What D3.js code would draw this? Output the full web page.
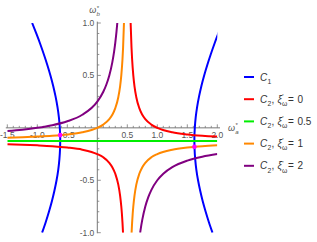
<!DOCTYPE html>
<html><head><meta charset="utf-8">
<script src="https://cdn.jsdelivr.net/npm/d3@7/dist/d3.min.js"></script>
<style>body{margin:0;background:#fff;} svg{display:block;font-family:"Liberation Sans",Arial,sans-serif;} text{white-space:pre;}</style>
</head><body><svg id="c" width="317" height="242"></svg>
<script>
// ---- data ----
const xTickValues = [-1.5, -1.0, -0.5, 0.5, 1.0, 1.5, 2.0];
const yTickValues = [-1.0, -0.5, 0.5, 1.0];
const xTickLabels = ["-1.5", "-1.0", "-0.5", "0.5", "1.0", "1.5", "2.0"];
const yTickLabels = ["-1.0", "-0.5", "0.5", "1.0"];

// C1 (two branches), points [x, y]
const c1Left = [[-0.920,-1.0],[-0.860,-0.9],[-0.806,-0.8],[-0.757,-0.7],[-0.715,-0.6],[-0.679,-0.5],[-0.651,-0.4],[-0.632,-0.3],[-0.621,-0.2],[-0.618,-0.1],[-0.625,0.0],[-0.640,0.1],[-0.664,0.2],[-0.696,0.3],[-0.735,0.4],[-0.781,0.5],[-0.833,0.6],[-0.890,0.7],[-0.951,0.8],[-1.017,0.9],[-1.086,1.0]];
const c1Right = [[1.920,-1.0],[1.860,-0.9],[1.806,-0.8],[1.757,-0.7],[1.715,-0.6],[1.679,-0.5],[1.651,-0.4],[1.632,-0.3],[1.621,-0.2],[1.618,-0.1],[1.625,0.0],[1.640,0.1],[1.664,0.2],[1.696,0.3],[1.735,0.4],[1.781,0.5],[1.833,0.6],[1.890,0.7],[1.951,0.8],[2.017,0.9],[2.086,1.0]];

// C2, xi = 0 (red)
const c2xi0Left = [[-1.5,-0.156],[-1.25,-0.161],[-1.0,-0.167],[-0.75,-0.175],[-0.5,-0.188],[-0.25,-0.208],[0,-0.250],[0.1,-0.281],[0.2,-0.333],[0.25,-0.375],[0.3,-0.438],[0.35,-0.542],[0.38,-0.646],[0.40,-0.750],[0.41,-0.819],[0.42,-0.906],[0.4286,-1.0]];
const c2xi0Right = [[0.5556,1.0],[0.57,0.768],[0.58,0.656],[0.6,0.5],[0.62,0.396],[0.65,0.292],[0.7,0.1875],[0.75,0.125],[0.8,0.083],[0.9,0.031],[1.0,0.0],[1.25,-0.042],[1.5,-0.0625],[1.75,-0.075],[2.0,-0.083]];
// C2, xi = 0.5 (green)
const c2xi05 = [[-1.5,-0.125],[2.0,-0.125]];
// C2, xi = 1 (orange)
const c2xi1Left = [[-1.5,-0.094],[-1.25,-0.089],[-1.0,-0.083],[-0.75,-0.075],[-0.5,-0.0625],[-0.25,-0.042],[0,0.0],[0.1,0.031],[0.2,0.083],[0.25,0.125],[0.3,0.1875],[0.35,0.292],[0.38,0.396],[0.40,0.5],[0.42,0.656],[0.43,0.768],[0.4444,1.0]];
const c2xi1Right = [[0.5714,-1.0],[0.58,-0.906],[0.59,-0.819],[0.6,-0.75],[0.62,-0.646],[0.65,-0.542],[0.7,-0.438],[0.75,-0.375],[0.8,-0.333],[0.9,-0.281],[1.0,-0.25],[1.25,-0.208],[1.5,-0.1875],[1.75,-0.175],[2.0,-0.167]];
// C2, xi = 2 (purple)
const c2xi2Left = [[-1.5,-0.031],[-1.25,-0.018],[-1.0,0.0],[-0.75,0.025],[-0.5,0.0625],[-0.25,0.125],[0,0.25],[0.1,0.344],[0.15,0.411],[0.2,0.5],[0.25,0.625],[0.28,0.727],[0.3,0.8125],[0.32,0.917],[0.3333,1.0]];
const c2xi2Right = [[0.7143,-1.0],[0.72,-0.977],[0.75,-0.875],[0.8,-0.75],[0.85,-0.661],[0.9,-0.594],[1.0,-0.5],[1.1,-0.4375],[1.25,-0.375],[1.5,-0.3125],[1.75,-0.275],[2.0,-0.25]];

// intersection points (magenta)
const crossPoints = [[-0.619,-0.069],[1.619,-0.181]];

const legendLabels = ["1", "0", "0.5", "1", "2"];
const seriesColors = ["#0000ff", "#ff0000", "#00ee00", "#ff8800", "#800080"];

// ---- drawing ----
const svg = d3.select("#c");
const x = d3.scaleLinear().domain([-1.5, 2.0]).range([7.3, 217.3]);
const y = d3.scaleLinear().domain([-1, 1]).range([232.7, 23]);

const axisColor = "#777";
const labelColor = "#555";

// axes lines
const ax = svg.append("g");
ax.append("line").attr("x1", x(-1.525)).attr("x2", x(2.045)).attr("y1", y(0)).attr("y2", y(0)).attr("stroke", axisColor).attr("stroke-width", 1);
ax.append("line").attr("x1", x(0)).attr("x2", x(0)).attr("y1", y(1.013)).attr("y2", y(-1.005)).attr("stroke", axisColor).attr("stroke-width", 1);

// minor ticks
const xMinor = d3.range(-15, 21).map(d => d / 10);
const yMinor = d3.range(-10, 11).map(d => d / 10);
xMinor.forEach(v => {
  if (Math.abs(v) < 1e-9) return;
  const major = xTickValues.some(t => Math.abs(t - v) < 1e-9);
  ax.append("line").attr("x1", x(v)).attr("x2", x(v)).attr("y1", y(0)).attr("y2", y(0) - (major ? 3.5 : 2))
    .attr("stroke", axisColor).attr("stroke-width", 0.8);
});
yMinor.forEach(v => {
  if (Math.abs(v) < 1e-9) return;
  const major = yTickValues.some(t => Math.abs(t - v) < 1e-9);
  ax.append("line").attr("y1", y(v)).attr("y2", y(v)).attr("x1", x(0)).attr("x2", x(0) + (major ? 3.5 : 2))
    .attr("stroke", axisColor).attr("stroke-width", 0.8);
});
// tick labels
xTickValues.forEach((v, i) => {
  ax.append("text").attr("x", x(v)).attr("y", y(0) + 10).attr("text-anchor", "middle")
    .attr("font-size", 8.5).attr("fill", labelColor).text(xTickLabels[i]);
});
yTickValues.forEach((v, i) => {
  ax.append("text").attr("x", x(0) - 3).attr("y", y(v) + 3).attr("text-anchor", "end")
    .attr("font-size", 8.5).attr("fill", labelColor).text(yTickLabels[i]);
});

function rich(g, x0, y0, segs, size, fill) {
  let cx = x0;
  segs.forEach(s => {
    cx += s.pad || 0;
    const t = g.append("text").attr("x", cx).attr("y", y0).attr("font-size", size).attr("fill", fill)
      .attr("font-style", s.i ? "italic" : "normal").text(s.t);
    const w = t.node().getComputedTextLength();
    let w2 = 0;
    if (s.sub) {
      const ts = g.append("text").attr("x", cx + w + 0.2).attr("y", y0 + size * 0.32).attr("font-size", size * 0.68)
        .attr("fill", fill).attr("font-style", s.subI ? "italic" : "normal").text(s.sub);
      w2 = Math.max(w2, ts.node().getComputedTextLength());
    }
    if (s.sup) {
      const tp = g.append("text").attr("x", cx + w + 0.4).attr("y", y0 - size * 0.38).attr("font-size", size * 0.68)
        .attr("fill", fill).text(s.sup);
      w2 = Math.max(w2, tp.node().getComputedTextLength());
    }
    cx += w + (w2 ? w2 + 0.6 : 0);
  });
  return cx;
}

// axis labels
rich(svg, 228, y(0) + 3, [{t: "ω", i: true, sub: "a", subI: true, sup: "*"}], 9, labelColor);
rich(svg, x(0) - 8, 13, [{t: "ω", i: true, sub: "b", subI: true, sup: "*"}], 9, labelColor);

// curves
const clip = svg.append("defs").append("clipPath").attr("id", "pc");
clip.append("rect").attr("x", x(-1.5)).attr("y", y(1)).attr("width", x(2) - x(-1.5)).attr("height", y(-1) - y(1));
const plot = svg.append("g").attr("clip-path", "url(#pc)");

const lineX = d3.line().x(d => x(d[0])).y(d => y(d[1])).curve(d3.curveMonotoneX);
const lineY = d3.line().x(d => x(d[0])).y(d => y(d[1])).curve(d3.curveMonotoneY);

const curves = [
  {data: c1Left, gen: lineY, c: 0}, {data: c1Right, gen: lineY, c: 0},
  {data: c2xi0Left, gen: lineX, c: 1}, {data: c2xi0Right, gen: lineX, c: 1},
  {data: c2xi05, gen: lineX, c: 2},
  {data: c2xi1Left, gen: lineX, c: 3}, {data: c2xi1Right, gen: lineX, c: 3},
  {data: c2xi2Left, gen: lineX, c: 4}, {data: c2xi2Right, gen: lineX, c: 4}
];
curves.forEach(cv => {
  plot.append("path").attr("d", cv.gen(cv.data)).attr("fill", "none")
    .attr("stroke", seriesColors[cv.c]).attr("stroke-width", 2);
});

svg.append("g").selectAll("circle").data(crossPoints).join("circle")
  .attr("cx", d => x(d[0])).attr("cy", d => y(d[1])).attr("r", 2.3).attr("fill", "#ff00ff");

// legend
const lg = svg.append("g");
const rowY0 = 77, rowStep = 22.2;
legendLabels.forEach((lab, i) => {
  const ry = rowY0 + i * rowStep;
  lg.append("line").attr("x1", 244).attr("x2", 254).attr("y1", ry).attr("y2", ry)
    .attr("stroke", seriesColors[i]).attr("stroke-width", 2);
  if (i === 0) {
    rich(lg, 260, ry + 3.5, [{t: "C", i: true, sub: lab}], 10, "#333");
  } else {
    rich(lg, 260, ry + 3.5, [{t: "C", i: true, sub: "2"}, {t: ","}, {t: "ξ", i: true, sub: "ω", sup: "'", pad: 3}, {t: "=", pad: 0.3}, {t: lab, pad: 3.5}], 10, "#333");
  }
});
</script></body></html>
